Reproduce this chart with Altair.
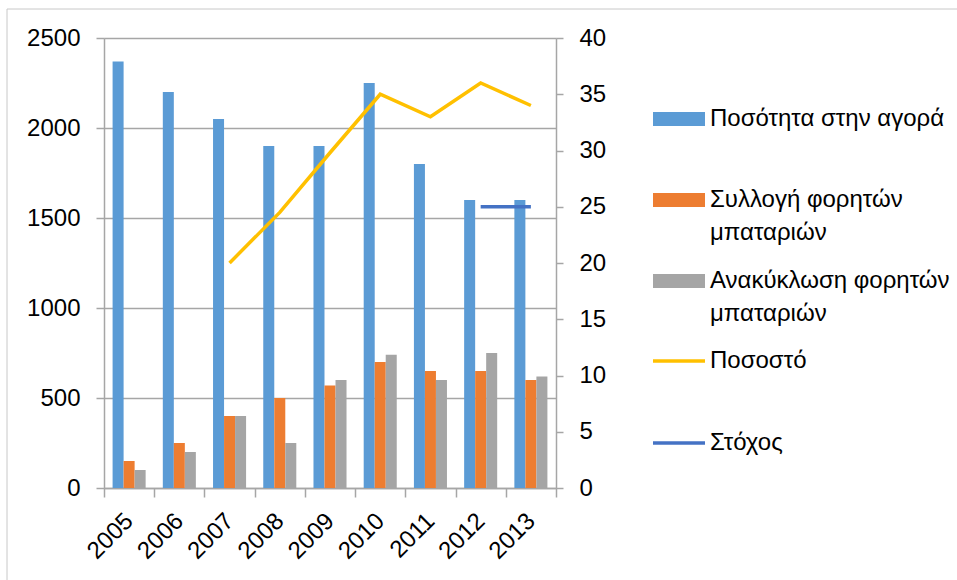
import json
import altair as alt
import pandas as pd

# ---------------- data ----------------
years = ["2005", "2006", "2007", "2008", "2009", "2010", "2011", "2012", "2013"]
market = [2370, 2200, 2050, 1900, 1900, 2250, 1800, 1600, 1600]
collection = [150, 250, 400, 500, 570, 700, 650, 650, 600]
recycling = [100, 200, 400, 250, 600, 740, 600, 750, 620]

rate_years = ["2007", "2008", "2009", "2010", "2011", "2012", "2013"]
rate = [20, 24.5, 29.8, 35, 33, 36, 34]
target_years = ["2012", "2013"]
target = [25, 25]

bar_series = ["Ποσότητα στην αγορά", "Συλλογή φορητών μπαταριών", "Ανακύκλωση φορητών μπαταριών"]
line_series = ["Ποσοστό", "Στόχος"]
bar_colors = ["#5B9BD5", "#ED7D31", "#A5A5A5"]
line_colors = ["#FFC000", "#4472C4"]
# legend labels wrapped on two lines (blank second line keeps rows equal)
bar_legend_lines = {
    "Ποσότητα στην αγορά": ["Ποσότητα στην αγορά", " "],
    "Συλλογή φορητών μπαταριών": ["Συλλογή φορητών", "μπαταριών"],
    "Ανακύκλωση φορητών μπαταριών": ["Ανακύκλωση φορητών", "μπαταριών"],
}
left_ticks = [0, 500, 1000, 1500, 2000, 2500]
right_ticks = [0, 5, 10, 15, 20, 25, 30, 35, 40]

# ---------------- tables ----------------
bar_rows = []
for s, vals in zip(bar_series, [market, collection, recycling]):
    for y, v in zip(years, vals):
        bar_rows.append({"year": y, "series": s, "value": v})
bars_df = pd.DataFrame(bar_rows)

line_rows = []
for y, v in zip(rate_years, rate):
    line_rows.append({"year": y, "series": line_series[0], "value": v})
for y, v in zip(target_years, target):
    line_rows.append({"year": y, "series": line_series[1], "value": v})
lines_df = pd.DataFrame(line_rows)

FONT = "Liberation Sans"
GRID = "#A6A6A6"

expr = "datum.label"
for name, parts in reversed(list(bar_legend_lines.items())):
    expr = f"datum.label == {json.dumps(name, ensure_ascii=False)} ? {json.dumps(parts, ensure_ascii=False)} : ({expr})"

bar_legend = alt.Legend(
    title=None,
    orient="none",
    legendX=549,
    legendY=55,
    padding=0,
    symbolType="M-1,-0.27H1V0.27H-1Z",
    symbolSize=2704,
    symbolStrokeWidth=0,
    symbolOpacity=1,
    symbolOffset=0,
    labelOffset=5,
    labelFont=FONT,
    labelFontSize=24,
    labelColor="#000000",
    labelLimit=600,
    labelBaseline="middle",
    rowPadding=10,
    labelExpr=expr,
)

line_legend = alt.Legend(
    title=None,
    orient="none",
    legendX=547,
    legendY=295,
    padding=0,
    symbolType="stroke",
    symbolSize=2704,
    symbolStrokeWidth=3.5,
    symbolOpacity=1,
    symbolOffset=0,
    labelOffset=3,
    labelFont=FONT,
    labelFontSize=24,
    labelColor="#000000",
    labelLimit=600,
    labelBaseline="middle",
    rowPadding=42,
)

x_enc = alt.X(
    "year:N",
    sort=years,
    scale=alt.Scale(domain=years, paddingInner=0, paddingOuter=0),
    axis=alt.Axis(
        title=None,
        tickBand="extent",
        tickSize=9,
        tickColor=GRID,
        tickWidth=1.5,
        domainColor=GRID,
        domainWidth=1.5,
        labelAngle=315,
        labelAlign="right",
        labelBaseline="middle",
        labelPadding=20,
        labelFont=FONT,
        labelFontSize=24,
        labelColor="#000000",
        grid=False,
    ),
)

bars = alt.Chart(bars_df).mark_bar().encode(
    x=x_enc,
    xOffset=alt.XOffset(
        "series:N",
        sort=bar_series,
        scale=alt.Scale(domain=bar_series, paddingInner=0, paddingOuter=0.78),
    ),
    y=alt.Y(
        "value:Q",
        scale=alt.Scale(domain=[0, 2500], nice=False),
        axis=alt.Axis(
            title=None,
            values=left_ticks,
            format="d",
            grid=True,
            gridColor=GRID,
            gridWidth=1.5,
            domainColor=GRID,
            domainWidth=1.5,
            tickColor=GRID,
            tickWidth=1.5,
            tickSize=8,
            labelPadding=16,
            labelFont=FONT,
            labelFontSize=24,
            labelColor="#000000",
        ),
    ),
    fill=alt.Fill("series:N", scale=alt.Scale(domain=bar_series, range=bar_colors), legend=bar_legend),
)

lines = alt.Chart(lines_df).mark_line(strokeWidth=3.5).encode(
    x=alt.X("year:N", sort=years),
    y=alt.Y(
        "value:Q",
        scale=alt.Scale(domain=[0, 40], nice=False),
        axis=alt.Axis(
            title=None,
            orient="right",
            values=right_ticks,
            format="d",
            grid=False,
            domainColor=GRID,
            domainWidth=1.5,
            tickColor=GRID,
            tickWidth=1.5,
            tickSize=7,
            labelPadding=16,
            labelFont=FONT,
            labelFontSize=24,
            labelColor="#000000",
        ),
    ),
    stroke=alt.Stroke("series:N", scale=alt.Scale(domain=line_series, range=line_colors), legend=line_legend),
)

frame_v = alt.Chart(alt.Data(values=[{}])).mark_rule(color="#C8C8C8", strokeWidth=1).encode(
    x=alt.value(-97), y=alt.value(-29), y2=alt.value(560)
)
frame_h = alt.Chart(alt.Data(values=[{}])).mark_rule(color="#C8C8C8", strokeWidth=1).encode(
    y=alt.value(-29), x=alt.value(-97), x2=alt.value(900)
)

chart = (
    alt.layer(bars, lines, frame_v, frame_h)
    .resolve_scale(y="independent")
    .properties(
        width=452,
        height=450,
        autosize=alt.AutoSizeParams(type="none"),
        padding={"left": 104, "top": 38, "right": 401, "bottom": 92},
        background="#FFFFFF",
    )
    .configure_view(stroke="transparent")
    .configure(style={"guide-label": {"lineHeight": 33}})
)

chart.save("out.html", embed_options={"renderer": "svg", "actions": False})
